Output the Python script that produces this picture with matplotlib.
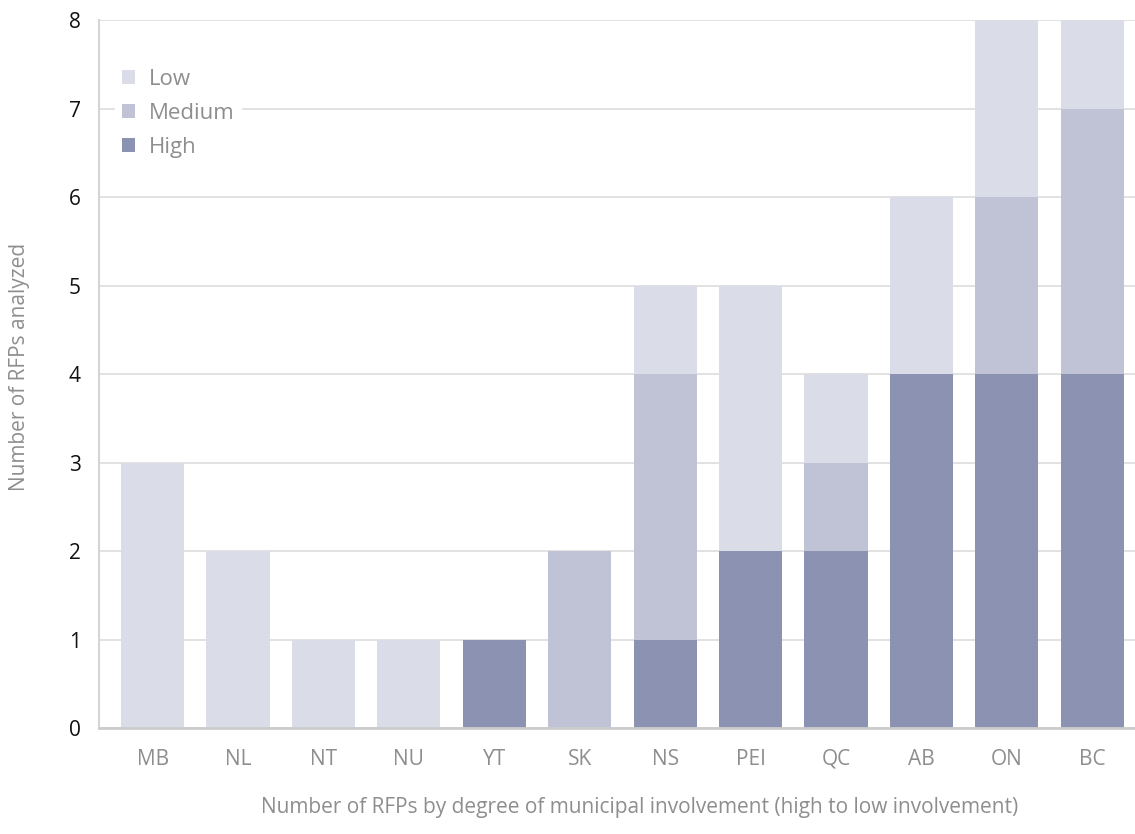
# Stacked bar chart: RFPs by province/territory and degree of municipal involvement
import matplotlib.pyplot as plt
import numpy as np

plt.rcParams['font.family'] = ['Open Sans', 'DejaVu Sans']

# data
#------------------------------------------------------------------------------
provinces = ['MB', 'NL', 'NT', 'NU', 'YT', 'SK', 'NS', 'PEI', 'QC', 'AB', 'ON', 'BC']
high = [0, 0, 0, 0, 1, 0, 1, 2, 2, 4, 4, 4]
medium = [0, 0, 0, 0, 0, 2, 3, 0, 1, 0, 2, 3]
low = [3, 2, 1, 1, 0, 0, 1, 3, 1, 2, 2, 1]
#------------------------------------------------------------------------------

col_high = '#8C92B1'
col_medium = '#C0C3D6'
col_low = '#DADCE8'
grey_text = '#8E8E90'

fig = plt.figure(figsize=(11.35, 8.34), dpi=100)
ax = fig.add_axes([0.087, 0.127, 0.913, 0.849])

x = np.arange(len(provinces))
width = 0.74
high_a = np.array(high)
med_a = np.array(medium)
low_a = np.array(low)

ax.bar(x, high_a, width, color=col_high, label='High', zorder=2)
ax.bar(x, med_a, width, bottom=high_a, color=col_medium, label='Medium', zorder=2)
ax.bar(x, low_a, width, bottom=high_a + med_a, color=col_low, label='Low', zorder=2)

ax.set_xlim(-0.63, 11.5)
ax.set_ylim(0, 8)
ax.set_yticks(range(0, 9))
ax.set_xticks(x)
ax.set_xticklabels(provinces)

ax.grid(axis='y', color='#DDDDDD', linewidth=1.2, zorder=0)
ax.set_axisbelow(True)
for side in ['top', 'right']:
    ax.spines[side].set_visible(False)
ax.spines['left'].set_color('#D5D5D5')
ax.spines['left'].set_linewidth(1.5)
ax.spines['bottom'].set_color('#CCCCCC')
ax.spines['bottom'].set_linewidth(2)

ax.tick_params(axis='y', length=0, labelsize=15, labelcolor='#111111', pad=13)
ax.tick_params(axis='x', length=0, labelsize=15, labelcolor=grey_text, pad=15)

ax.set_ylabel('Number of RFPs analyzed', fontsize=15, color=grey_text)
ax.yaxis.set_label_coords(-0.066, 0.51)
ax.set_xlabel('Number of RFPs by degree of municipal involvement (high to low involvement)',
              fontsize=15, color=grey_text)
ax.xaxis.set_label_coords(0.522, -0.098)

# legend in reverse order: Low, Medium, High
handles, labels = ax.get_legend_handles_labels()
leg = ax.legend(handles[::-1], labels[::-1], loc='upper left',
                bbox_to_anchor=(0.016, 0.94), frameon=True, framealpha=1,
                edgecolor='white', fontsize=16, handlelength=0.6,
                handleheight=0.6, handletextpad=0.6, labelspacing=0.58,
                borderpad=0.3, borderaxespad=0)
for t in leg.get_texts():
    t.set_color(grey_text)

fig.savefig('out.png', dpi=100)
